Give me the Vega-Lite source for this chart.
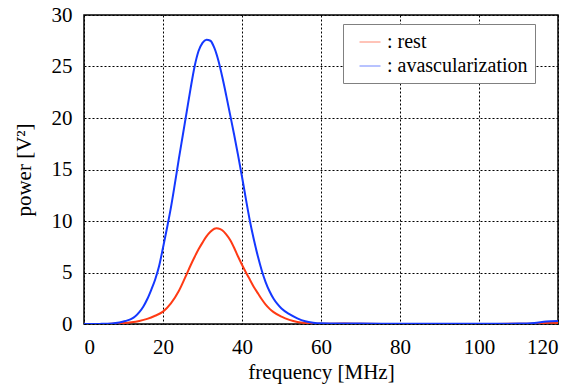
{
  "$schema": "https://vega.github.io/schema/vega-lite/v6.json",
  "width": 474,
  "height": 309,
  "autosize": {"type": "none"},
  "padding": {"left": 84, "top": 15, "right": 22, "bottom": 61},
  "background": "white",
  "config": {
    "view": {"stroke": "black", "strokeWidth": 1.5},
    "axis": {
      "labelFont": "Liberation Serif",
      "titleFont": "Liberation Serif",
      "labelFontSize": 21,
      "titleFontSize": 21,
      "labelFontWeight": "normal",
      "titleFontWeight": "normal",
      "labelColor": "black",
      "titleColor": "black",
      "ticks": false,
      "domain": false,
      "grid": true,
      "gridColor": "black",
      "gridDash": [2, 2],
      "gridWidth": 1,
      "gridOpacity": 1
    },
    "legend": {
      "labelFont": "Liberation Serif",
      "labelFontSize": 20,
      "labelColor": "black"
    }
  },
  "data": {
    "values": [
      {"f": 0, "p": 0, "s": "rest"},
      {"f": 4, "p": 0, "s": "rest"},
      {"f": 6, "p": 0.01, "s": "rest"},
      {"f": 8, "p": 0.04, "s": "rest"},
      {"f": 10, "p": 0.09, "s": "rest"},
      {"f": 12, "p": 0.17, "s": "rest"},
      {"f": 14, "p": 0.3, "s": "rest"},
      {"f": 16, "p": 0.5, "s": "rest"},
      {"f": 18, "p": 0.8, "s": "rest"},
      {"f": 20, "p": 1.2, "s": "rest"},
      {"f": 22, "p": 2.0, "s": "rest"},
      {"f": 24, "p": 3.2, "s": "rest"},
      {"f": 26, "p": 4.85, "s": "rest"},
      {"f": 27, "p": 5.7, "s": "rest"},
      {"f": 28, "p": 6.5, "s": "rest"},
      {"f": 29, "p": 7.25, "s": "rest"},
      {"f": 30, "p": 7.9, "s": "rest"},
      {"f": 31, "p": 8.5, "s": "rest"},
      {"f": 32, "p": 8.95, "s": "rest"},
      {"f": 33, "p": 9.25, "s": "rest"},
      {"f": 33.5, "p": 9.3, "s": "rest"},
      {"f": 34, "p": 9.28, "s": "rest"},
      {"f": 35, "p": 9.1, "s": "rest"},
      {"f": 36, "p": 8.7, "s": "rest"},
      {"f": 37, "p": 8.15, "s": "rest"},
      {"f": 38, "p": 7.4, "s": "rest"},
      {"f": 39, "p": 6.55, "s": "rest"},
      {"f": 40, "p": 5.75, "s": "rest"},
      {"f": 41, "p": 5.0, "s": "rest"},
      {"f": 42, "p": 4.3, "s": "rest"},
      {"f": 43, "p": 3.6, "s": "rest"},
      {"f": 44, "p": 3.0, "s": "rest"},
      {"f": 45, "p": 2.4, "s": "rest"},
      {"f": 46, "p": 1.88, "s": "rest"},
      {"f": 47, "p": 1.47, "s": "rest"},
      {"f": 48, "p": 1.15, "s": "rest"},
      {"f": 50, "p": 0.71, "s": "rest"},
      {"f": 52, "p": 0.4, "s": "rest"},
      {"f": 54, "p": 0.2, "s": "rest"},
      {"f": 56, "p": 0.1, "s": "rest"},
      {"f": 58, "p": 0.05, "s": "rest"},
      {"f": 60, "p": 0.03, "s": "rest"},
      {"f": 66, "p": 0.04, "s": "rest"},
      {"f": 70, "p": 0.02, "s": "rest"},
      {"f": 80, "p": 0.01, "s": "rest"},
      {"f": 90, "p": 0.01, "s": "rest"},
      {"f": 100, "p": 0.01, "s": "rest"},
      {"f": 110, "p": 0.02, "s": "rest"},
      {"f": 116, "p": 0.08, "s": "rest"},
      {"f": 118, "p": 0.12, "s": "rest"},
      {"f": 120, "p": 0.1, "s": "rest"},
      {"f": 0, "p": 0, "s": "avascularization"},
      {"f": 2, "p": 0, "s": "avascularization"},
      {"f": 4, "p": 0.01, "s": "avascularization"},
      {"f": 6, "p": 0.03, "s": "avascularization"},
      {"f": 8, "p": 0.1, "s": "avascularization"},
      {"f": 10, "p": 0.25, "s": "avascularization"},
      {"f": 11, "p": 0.35, "s": "avascularization"},
      {"f": 12, "p": 0.5, "s": "avascularization"},
      {"f": 13, "p": 0.75, "s": "avascularization"},
      {"f": 14, "p": 1.15, "s": "avascularization"},
      {"f": 15, "p": 1.68, "s": "avascularization"},
      {"f": 16, "p": 2.4, "s": "avascularization"},
      {"f": 17, "p": 3.3, "s": "avascularization"},
      {"f": 18, "p": 4.3, "s": "avascularization"},
      {"f": 19, "p": 5.6, "s": "avascularization"},
      {"f": 20, "p": 7.4, "s": "avascularization"},
      {"f": 21, "p": 9.3, "s": "avascularization"},
      {"f": 22, "p": 11.3, "s": "avascularization"},
      {"f": 23, "p": 13.6, "s": "avascularization"},
      {"f": 24, "p": 16.0, "s": "avascularization"},
      {"f": 25, "p": 18.3, "s": "avascularization"},
      {"f": 26, "p": 20.6, "s": "avascularization"},
      {"f": 27, "p": 22.9, "s": "avascularization"},
      {"f": 28, "p": 25.0, "s": "avascularization"},
      {"f": 29, "p": 26.5, "s": "avascularization"},
      {"f": 30, "p": 27.3, "s": "avascularization"},
      {"f": 31, "p": 27.6, "s": "avascularization"},
      {"f": 32, "p": 27.5, "s": "avascularization"},
      {"f": 33, "p": 26.8, "s": "avascularization"},
      {"f": 34, "p": 25.6, "s": "avascularization"},
      {"f": 35, "p": 24.0, "s": "avascularization"},
      {"f": 36, "p": 22.2, "s": "avascularization"},
      {"f": 37, "p": 20.3, "s": "avascularization"},
      {"f": 38, "p": 18.4, "s": "avascularization"},
      {"f": 39, "p": 16.4, "s": "avascularization"},
      {"f": 40, "p": 14.3, "s": "avascularization"},
      {"f": 41, "p": 12.1, "s": "avascularization"},
      {"f": 42, "p": 10.0, "s": "avascularization"},
      {"f": 43, "p": 8.2, "s": "avascularization"},
      {"f": 44, "p": 6.6, "s": "avascularization"},
      {"f": 45, "p": 5.2, "s": "avascularization"},
      {"f": 46, "p": 4.05, "s": "avascularization"},
      {"f": 47, "p": 3.15, "s": "avascularization"},
      {"f": 48, "p": 2.45, "s": "avascularization"},
      {"f": 49, "p": 1.92, "s": "avascularization"},
      {"f": 50, "p": 1.5, "s": "avascularization"},
      {"f": 52, "p": 0.95, "s": "avascularization"},
      {"f": 54, "p": 0.55, "s": "avascularization"},
      {"f": 56, "p": 0.27, "s": "avascularization"},
      {"f": 58, "p": 0.13, "s": "avascularization"},
      {"f": 60, "p": 0.07, "s": "avascularization"},
      {"f": 64, "p": 0.05, "s": "avascularization"},
      {"f": 70, "p": 0.04, "s": "avascularization"},
      {"f": 80, "p": 0.03, "s": "avascularization"},
      {"f": 90, "p": 0.03, "s": "avascularization"},
      {"f": 100, "p": 0.02, "s": "avascularization"},
      {"f": 110, "p": 0.04, "s": "avascularization"},
      {"f": 114, "p": 0.1, "s": "avascularization"},
      {"f": 117, "p": 0.25, "s": "avascularization"},
      {"f": 120, "p": 0.3, "s": "avascularization"}
    ]
  },
  "mark": {"type": "line", "strokeWidth": 2, "clip": true, "interpolate": "monotone"},
  "encoding": {
    "x": {
      "field": "f",
      "type": "quantitative",
      "scale": {"domain": [0, 120], "nice": false},
      "axis": {"values": [0, 20, 40, 60, 80, 100, 120], "title": "frequency [MHz]", "titlePadding": 4, "labelPadding": 12}
    },
    "y": {
      "field": "p",
      "type": "quantitative",
      "scale": {"domain": [0, 30], "nice": false},
      "axis": {"values": [0, 5, 10, 15, 20, 25, 30], "title": "power [V²]", "titlePadding": 17, "labelPadding": 12}
    },
    "color": {
      "field": "s",
      "type": "nominal",
      "scale": {"domain": ["rest", "avascularization"], "range": ["#ff3a14", "#1438ff"]},
      "legend": {
        "title": null,
        "orient": "none",
        "legendX": 259,
        "legendY": 9,
        "symbolType": "stroke",
        "symbolSize": 441,
        "symbolStrokeWidth": 1,
        "symbolOpacity": 0.6,
        "symbolOffset": 9,
        "labelExpr": "': ' + datum.label",
        "labelLimit": 400,
        "strokeColor": "#808080",
        "fillColor": "white",
        "padding": 7,
        "rowPadding": 3,
        "labelOffset": 6
      }
    }
  }
}
